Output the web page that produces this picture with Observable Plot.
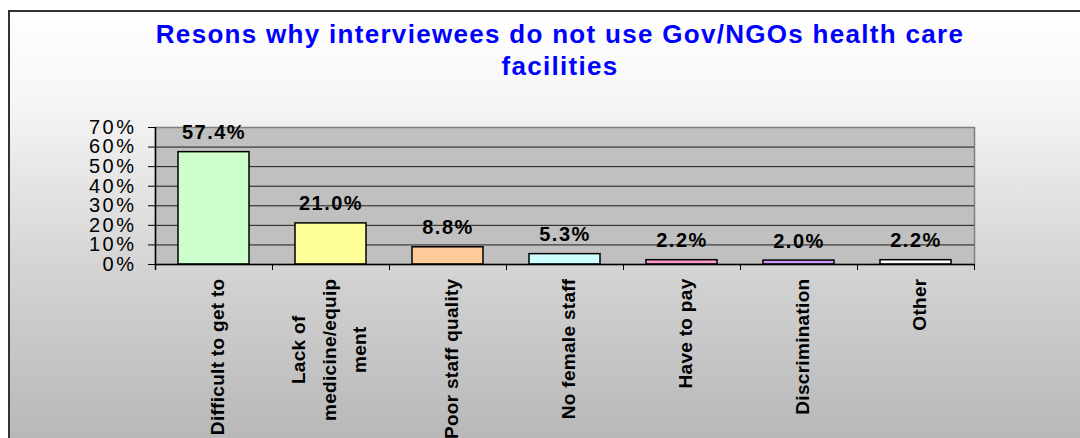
<!DOCTYPE html>
<html><head><meta charset="utf-8">
<script src="https://cdn.jsdelivr.net/npm/d3@7"></script>
<script src="https://cdn.jsdelivr.net/npm/@observablehq/plot@0.6"></script>
<style>
html,body{margin:0;padding:0;width:1080px;height:438px;overflow:hidden;background:#fff;}
#frame{position:absolute;left:8px;top:10px;width:1100px;height:440px;box-sizing:border-box;border-left:2px solid #333;border-top:2px solid #333;background:linear-gradient(#ffffff 0%, #f6f6f6 20%, #d4d4d4 58%, #b6b6b6 100%);}
#title{position:absolute;left:0;top:18px;width:1120px;text-align:center;font:bold 26px "Liberation Sans",Arial,sans-serif;color:#0000ff;letter-spacing:1.3px;line-height:32px;}
#chart{position:absolute;left:0;top:100px;}
</style></head>
<body>
<div id="frame"></div>
<div id="title">Resons why interviewees do not use Gov/NGOs health care<br>facilities</div>
<div id="chart"></div>
<script>
const categories = ["Difficult to get to", "Lack of\nmedicine/equip\nment", "Poor staff quality", "No female staff", "Have to pay", "Discrimination", "Other"];
const values = [57.4, 21.0, 8.8, 5.3, 2.2, 2.0, 2.2];
const yTicks = [0, 10, 20, 30, 40, 50, 60, 70];
const colors = ["#ccffcc", "#ffff99", "#ffcc99", "#ccffff", "#ff99cc", "#cc99ff", "#ffffff"];

const data = categories.map((c, i) => ({category: c, value: values[i]}));
const W = 1080, H = 338, mL = 155, mR = 106, mT = 27, mB = 174;
const step = (W - mL - mR) / categories.length;

const plot = Plot.plot({
  width: W, height: H, marginLeft: mL, marginRight: mR, marginTop: mT, marginBottom: mB,
  style: {background: "transparent", fontFamily: '"Liberation Sans", Arial, sans-serif', color: "#000", overflow: "visible"},
  x: {domain: categories, paddingInner: 0.39, paddingOuter: 0.195},
  y: {domain: [0, 70]},
  color: {domain: categories, range: colors},
  marks: [
    Plot.frame({fill: "#c0c0c0", stroke: "#808080", strokeWidth: 1.5}),
    Plot.ruleY(yTicks.filter(t => t > 0 && t < 70), {stroke: "#1a1a1a", strokeWidth: 1}),
    Plot.barY(data, {x: "category", y: "value", fill: "category", stroke: "#000", strokeWidth: 1.5}),
    Plot.ruleY([0], {stroke: "#000", strokeWidth: 1.5}),
    Plot.ruleX([categories[0]], {x: d => d, dx: -step / 2, y1: () => 0, y2: () => 70, insetTop: 6, stroke: "#000", strokeWidth: 1.5}),
    Plot.ruleX(categories, {x: d => d, dx: -step / 2, y1: () => 0, y2: () => 0, insetTop: 6, stroke: "#000"}),
    Plot.ruleX([categories[categories.length - 1]], {x: d => d, dx: step / 2, y1: () => 0, y2: () => 0, insetTop: 6, stroke: "#000"}),
    Plot.axisY({ticks: yTicks, tickFormat: d => d + "%", tickSize: 7, tickPadding: 12, fontSize: 20, label: null}),
    Plot.axisX({tickRotate: -90, tickSize: 0, tickPadding: 14, fontSize: 19, lineHeight: 1.6, fontWeight: "bold", label: null}),
    Plot.text(data, {x: "category", y: "value", text: d => d.value.toFixed(1) + "%", dy: -13, lineAnchor: "bottom", fontSize: 20, fontWeight: "bold"})
  ]
});
document.getElementById("chart").appendChild(plot);

plot.querySelectorAll('g[aria-label="y-axis tick label"] text').forEach(t => t.style.letterSpacing = "2.5px");
plot.querySelectorAll('g[aria-label="text"] text').forEach(t => t.style.letterSpacing = "1.5px");
plot.querySelectorAll('g[aria-label="x-axis tick label"] text').forEach(t => {
  t.style.letterSpacing = "0.3px";
  const spans = t.querySelectorAll("tspan");
  if (spans.length > 1) {
    let L = 0;
    spans.forEach(s => { L = Math.max(L, s.getComputedTextLength()); });
    t.setAttribute("text-anchor", "middle");
    t.setAttribute("transform", (t.getAttribute("transform") || "") + ` translate(${-L / 2},-5)`);
  }
});
</script>
</body></html>
